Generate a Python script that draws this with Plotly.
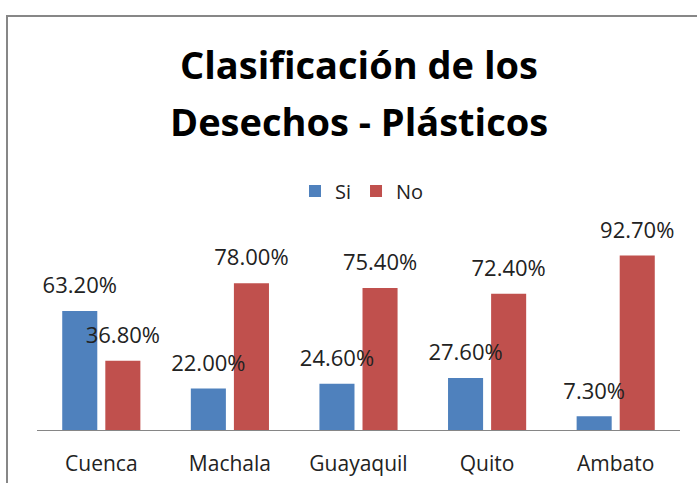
import plotly.graph_objects as go

categories = ["Cuenca", "Machala", "Guayaquil", "Quito", "Ambato"]
si_values = [63.2, 22.0, 24.6, 27.6, 7.3]
no_values = [36.8, 78.0, 75.4, 72.4, 92.7]
series_names = ["Si", "No"]
title_lines = ["Clasificación de los", "Desechos - Plásticos"]

BLUE = "#4F81BD"
RED = "#C0504D"
FONT = "Open Sans"
W, H = 697, 483
ML, MR, MT, MB = 37, 17, 240, 53
PW = W - ML - MR
PH = H - MT - MB


def px_x(p):
    return (p - ML) / PW


def px_y(p):
    return (H - MB - p) / PH


BARGAP = 0.33
fig = go.Figure()
for name, vals, col in [(series_names[0], si_values, BLUE), (series_names[1], no_values, RED)]:
    fig.add_trace(go.Bar(
        x=categories, y=vals, name=name, marker=dict(color=col, line=dict(width=0)),
        offsetgroup=name, hoverinfo="skip",
    ))
for name, vals in [(series_names[0], si_values), (series_names[1], no_values)]:
    fig.add_trace(go.Scatter(
        x=categories, y=vals, mode="markers+text", showlegend=False,
        offsetgroup=name,
        marker=dict(size=18, color="rgba(0,0,0,0)"),
        texttemplate="%{y:.2f}%", textposition="top center",
        textfont=dict(family=FONT, size=22, color="#222222"),
        cliponaxis=False, hoverinfo="skip",
    ))

annotations = []
for i, line in enumerate(title_lines):
    annotations.append(dict(
        text="<b>" + line + "</b>", xref="paper", yref="paper", x=0.5,
        y=px_y(64 + 57 * i), xanchor="center", yanchor="middle", showarrow=False,
        font=dict(family=FONT, size=38, color="#000000"),
    ))

fig.update_layout(
    width=W, height=H,
    margin=dict(l=ML, r=MR, t=MT, b=MB, pad=0, autoexpand=False),
    paper_bgcolor="white", plot_bgcolor="white",
    barmode="group", bargap=BARGAP, bargroupgap=0.186,
    scattermode="group", scattergap=BARGAP,
    showlegend=True,
    legend=dict(orientation="h", xref="container", yref="container",
                x=362 / W, y=1 - 191 / H, xanchor="center", yanchor="middle",
                font=dict(family=FONT, size=20, color="#222222"), bgcolor="rgba(0,0,0,0)"),
    xaxis=dict(showline=True, linecolor="#868686", linewidth=1, ticks="", showgrid=False,
               tickfont=dict(family=FONT, size=21, color="#222222"), ticklabelstandoff=15,
               fixedrange=True, automargin=False),
    yaxis=dict(range=[0, PH / 1.883], visible=False, showgrid=False, fixedrange=True,
               automargin=False),
    annotations=annotations,
    shapes=[dict(type="rect", xref="paper", yref="paper",
                 x0=px_x(7), x1=px_x(760), y0=px_y(520), y1=px_y(16),
                 line=dict(color="#878787", width=2), fillcolor="rgba(0,0,0,0)", layer="below")],
)

fig.write_html("out.html", config={"displayModeBar": False},
               post_script="document.body.style.margin='0';")
